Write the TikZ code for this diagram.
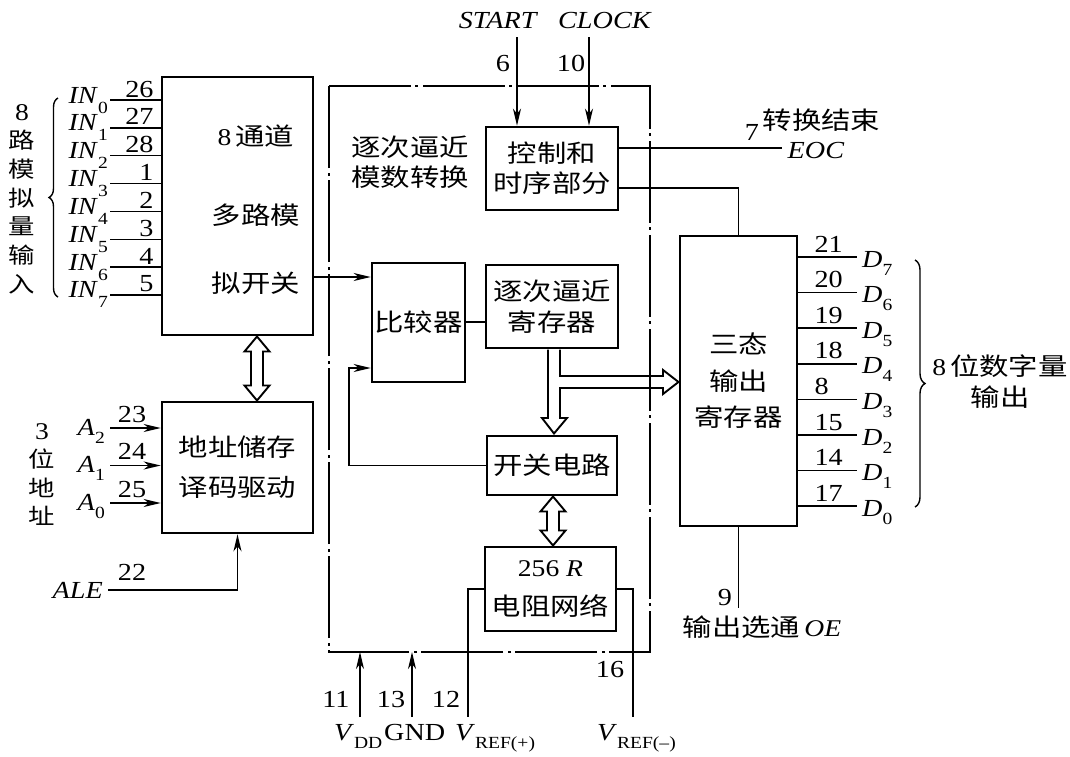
\documentclass[tikz,border=0pt]{standalone}
\usepackage{fontspec}
\setmainfont{Liberation Serif}[FakeStretch=1.15]
\newfontfamily\cjk{Noto Sans CJK SC}[FakeStretch=1.2]
\usetikzlibrary{arrows.meta,decorations.pathreplacing,calc}
\newcommand\lsb[2][8pt]{\raisebox{-#1}{\fontsize{17}{17}\selectfont #2}}
\newcommand\rmu[1]{{\rmfamily\fontsize{24}{28}\selectfont #1}}
\newcommand\rmi[1]{{\rmfamily\fontsize{24}{28}\selectfont\itshape #1}}
\newcommand\hdbl[3]{\filldraw[hollow] (#1,#2) -- ({#1+12.5},{#2+15}) -- ({#1+6},{#2+15}) -- ({#1+6},{#3-15}) -- ({#1+12.5},{#3-15}) -- (#1,#3) -- ({#1-12.5},{#3-15}) -- ({#1-6},{#3-15}) -- ({#1-6},{#2+15}) -- ({#1-12.5},{#2+15}) -- cycle;}
\begin{document}
\begin{tikzpicture}[x=1pt,y=-1pt,
  box/.style={draw, line width=2.6pt, inner sep=0pt},
  wire/.style={line width=1.5pt},
  arr/.style={wire, -{Stealth[length=17pt,width=8pt,inset=5pt]}},
  frm/.style={line width=1.4pt, dash pattern=on 82pt off 4pt on 3pt off 5pt},
  hollow/.style={draw, fill=white, line width=1.9pt, line join=miter},
  lat/.style={font=\fontsize{24.5}{28}\selectfont, inner sep=0pt},
  zh/.style={font=\cjk\fontsize{24.5}{30}\selectfont, inner sep=0pt, align=center},
  brc/.style={decorate, decoration={brace, amplitude=9pt}, line width=1.4pt}
]
\useasboundingbox (0,0) rectangle (1070,756);

% hollow bus arrows
\hdbl{257}{336.5}{400.5}
\hdbl{553}{496.5}{545.5}
\filldraw[hollow] (548,349.5) -- (548,418) -- (542,418) -- (554,433.5) -- (567,418) -- (560,418) -- (560,388) -- (663,388) -- (663,394) -- (678.5,382) -- (663,370) -- (663,376) -- (560,376) -- (560,349.5);

% dash-dot frame of the A/D converter
\draw[frm] (329,86) -- (650,86) -- (650,652) -- (329,652) -- cycle;
\coordinate (fbot) at (0,652);

% boxes
\node[box, minimum width=151pt, minimum height=258pt] (mux) at (237.5,206) {};
\node[box, zh, font=\cjk\fontsize{24.5}{40}\selectfont, minimum width=151pt, minimum height=131pt] (addr) at (237.5,467.5) {地址储存\\译码驱动};
\node[box, zh, minimum width=132pt, minimum height=83pt] (ctrl) at (552,168.5) {控制和\\时序部分};
\node[box, zh, minimum width=93pt, minimum height=119pt] (cmp) at (418.5,322.5) {比较器};
\node[box, zh, font=\cjk\fontsize{24.5}{31}\selectfont, minimum width=132pt, minimum height=83pt] (sar) at (552,306.5) {逐次逼近\\寄存器};
\node[box, zh, minimum width=130pt, minimum height=59pt] (sw) at (552,465.5) {开关电路};
\node[box, zh, font=\cjk\fontsize{24.5}{39}\selectfont, minimum width=131pt, minimum height=84pt] (res) at (550.5,589) {\rmu{256 \textit{R}}\\电阻网络};
\node[box, zh, font=\cjk\fontsize{24.5}{36.5}\selectfont, minimum width=117pt, minimum height=290pt] (tri) at (738.5,381) {三态\\输出\\寄存器};

% texts inside the multiplexer and the frame
\node[zh] at (256,136) {\rmu{8}\,通道};
\node[zh] at (256,215) {多路模};
\node[zh] at (256,283) {拟开关};
\node[zh] at (410,162) {逐次逼近\\模数转换};

% analog inputs
\foreach \i/\pn in {0/26,1/27,2/28,3/1,4/2,5/3,6/4,7/5} {
  \pgfmathsetmacro\yy{100+27.85*\i}
  \coordinate (in\i) at (110,\yy);
  \draw[wire] (in\i) -- (in\i -| mux.west);
  \node[lat, anchor=base east] at ($(in\i)+(-2,3)$) {\textit{IN}\lsb[10pt]{\i}};
  \node[lat, anchor=base east] at ($(in\i -| mux.west)+(-7,-3)$) {\pn};
}
\draw[brc] (58,297) -- (58,98);
\node[zh, font=\cjk\fontsize{22}{28.7}\selectfont] at (22,199) {\rmu{8}\\路\\模\\拟\\量\\输\\入};

% address inputs
\foreach \i/\pn/\yy in {2/23/428,1/24/465.5,0/25/503} {
  \coordinate (a\i) at (110,\yy);
  \draw[arr] (a\i) -- (a\i -| addr.west);
  \node[lat, anchor=base] at ($(a\i)+(22,-6)$) {\pn};
  \node[lat, anchor=base east] at ($(a\i)+(-5,7)$) {\textit{A}\lsb{\i}};
}
\node[zh, font=\cjk\fontsize{22}{28.3}\selectfont] at (42,474.5) {\rmu{3}\\位\\地\\址};

% ALE
\coordinate (ale) at (108,590);
\draw[arr] (ale) -| (addr.south);
\node[lat, anchor=base east] at ($(ale)+(-5,8)$) {\textit{ALE}};
\node[lat, anchor=base] at (132,580) {22};

% START / CLOCK
\coordinate (start) at (517,37);
\coordinate (clock) at (589,37);
\draw[arr] (start) -- (start |- ctrl.north);
\draw[arr] (clock) -- (clock |- ctrl.north);
\node[lat, anchor=base] at (498.5,28) {\textit{START}};
\node[lat, anchor=base] at (605,28) {\textit{CLOCK}};
\node[lat, anchor=base] at (503,71) {6};
\node[lat, anchor=base] at (571,71) {10};

% internal connections
\draw[arr] (mux.east |- 0,277) -- (cmp.west |- 0,277);
\draw[wire] (cmp.east |- 0,322) -- (sar.west |- 0,322);
\coordinate (fb) at (349,368);
\draw[arr] (sw.west) -| (fb) -- (fb -| cmp.west);

% EOC and control to output register
\coordinate (eoc) at (782,148);
\draw[wire] (eoc -| ctrl.east) -- (eoc);
\draw[wire] (ctrl.east |- 0,188) -| (tri.north);
\node[lat, anchor=base] at (752,140) {7};
\node[zh] at (821.5,120) {转换结束};
\node[lat, anchor=base] at (816,158) {\textit{EOC}};

% digital outputs
\foreach \i/\pn [count=\k from 0] in {7/21,6/20,5/19,4/18,3/8,2/15,1/14,0/17} {
  \pgfmathsetmacro\yy{257+35.6*\k}
  \coordinate (d\i) at (857,\yy);
  \draw[wire] (d\i -| tri.east) -- (d\i);
  \node[lat, anchor=base west] at ($(d\i -| tri.east)+(16,-5)$) {\pn};
  \node[lat, anchor=base west] at ($(d\i)+(5,10)$) {\textit{D}\lsb{\i}};
}
\draw[brc, decoration={brace, amplitude=10pt}] (915,260) -- (915,507);
\node[zh, font=\cjk\fontsize{24.5}{31}\selectfont] at (1000,382) {\rmu{8}\,位数字量\\输出};

% output enable
\coordinate (oe) at (0,608);
\draw[wire] (tri.south) -- (tri.south |- oe);
\node[lat, anchor=base] at (725,605) {9};
\node[zh] at (762,627) {输出选通\,\rmi{OE}};

% supply and reference pins
\coordinate (vdd) at (360,717);
\coordinate (gnd) at (412,717);
\coordinate (vrp) at (468,717);
\coordinate (vrm) at (633,717);
\draw[arr] (vdd) -- (vdd |- fbot);
\draw[arr] (gnd) -- (gnd |- fbot);
\draw[wire] (res.west) -| (vrp);
\draw[wire] (res.east) -| (vrm);
\node[lat, anchor=base] at (336,707) {11};
\node[lat, anchor=base] at (391,707) {13};
\node[lat, anchor=base] at (446,707) {12};
\node[lat, anchor=base] at (610,677) {16};
\node[lat, anchor=base west] at (334,740) {\textit{V}\lsb{DD}};
\node[lat, anchor=base west] at (384,740) {GND};
\node[lat, anchor=base west] at (455,740) {\textit{V}\lsb{REF(+)}};
\node[lat, anchor=base west] at (597,740) {\textit{V}\lsb{REF(--)}};
\end{tikzpicture}
\end{document}
